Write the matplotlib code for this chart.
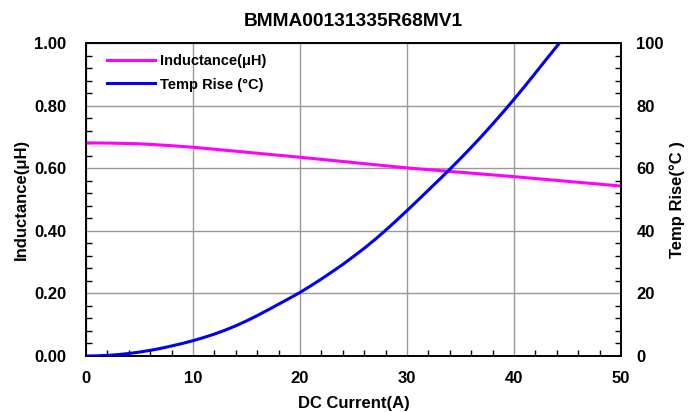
import numpy as np
import matplotlib
matplotlib.use("Agg")
import matplotlib.pyplot as plt
from matplotlib.ticker import MultipleLocator

plt.rcParams['font.family'] = ['Liberation Sans', 'DejaVu Sans']
plt.rcParams['font.weight'] = 'bold'

# data
current_ind = [0, 2.5, 5, 7.5, 10, 12.5, 15, 17.5, 20, 25, 30, 35, 40, 45, 50]
inductance = [0.681, 0.680, 0.678, 0.673, 0.667, 0.659, 0.651, 0.643, 0.635,
              0.618, 0.601, 0.587, 0.573, 0.558, 0.543]

current_temp = [0, 1, 2, 3, 4, 5, 6, 7, 8, 9, 10, 11, 12, 13, 14, 15, 16, 17, 18, 19, 20,
                21, 22, 23, 24, 25, 26, 27, 28, 29, 30, 31, 32, 33, 34, 35, 36, 37, 38,
                39, 40, 41, 42, 43, 44.25]
temp_rise = [0, 0.05, 0.2, 0.45, 0.8, 1.25, 1.8, 2.45, 3.2, 4.0, 4.9, 5.9, 7.0, 8.25, 9.65,
             11.2, 12.9, 14.7, 16.55, 18.4, 20.3, 22.4, 24.6, 26.9, 29.25, 31.8, 34.4, 37.2,
             40.15, 43.25, 46.45, 49.7, 53.0, 56.3, 59.65, 63.1, 66.65, 70.3, 74.1, 78.0,
             82.0, 86.15, 90.4, 94.7, 100.0]

x_ticks = [0, 10, 20, 30, 40, 50]
ind_ticks = [0.0, 0.2, 0.4, 0.6, 0.8, 1.0]
temp_ticks = [0, 20, 40, 60, 80, 100]

fig = plt.figure(figsize=(6.92, 4.12), dpi=100)
ax = fig.add_axes([86 / 692, 56 / 412, 535 / 692, 313 / 412])
ax2 = ax.twinx()

l1, = ax.plot(current_ind, inductance, color='#ff00ff', lw=2.2, label='Inductance(μH)',
              zorder=3, solid_joinstyle='round')
l2, = ax2.plot(current_temp, temp_rise, color='#0000ee', lw=2.2, label='Temp Rise (°C)',
               zorder=3, solid_joinstyle='round')

ax.set_xlim(0, 50)
ax.set_ylim(0, 1.0)
ax2.set_ylim(0, 100)
ax.set_xticks(x_ticks)
ax.set_yticks(ind_ticks)
ax.set_yticklabels(['%.2f' % v for v in ind_ticks])
ax2.set_yticks(temp_ticks)
ax.xaxis.set_minor_locator(MultipleLocator(2))
ax.yaxis.set_minor_locator(MultipleLocator(0.04))
ax2.yaxis.set_minor_locator(MultipleLocator(4))

ax.grid(True, which='major', color='#999999', lw=1)
ax.set_axisbelow(True)

for a in (ax, ax2):
    a.tick_params(which='both', direction='in', labelsize=12, top=False)
    a.tick_params(which='major', length=0)
    a.tick_params(which='minor', length=4, width=1)
    for s in a.spines.values():
        s.set_linewidth(1.2)
        s.set_color('black')
ax2.tick_params(axis='x', which='both', top=False, bottom=False)
ax.tick_params(axis='x', pad=11)
ax.tick_params(axis='y', pad=14)
ax2.tick_params(axis='y', pad=11)

ax.set_xlabel('DC Current(A)', fontsize=12, fontweight='bold', labelpad=7)
ax.set_ylabel('Inductance(μH)', fontsize=12, fontweight='bold', labelpad=4)
ax2.set_ylabel('Temp Rise(°C )', fontsize=12, fontweight='bold', labelpad=4)
ax.set_title('BMMA00131335R68MV1', fontsize=13.8, fontweight='bold', pad=12)

ax.legend(handles=[l1, l2], loc='upper left', bbox_to_anchor=(0.028, 0.982),
          borderaxespad=0, frameon=False, fontsize=10.5,
          handlelength=3.3, handletextpad=0.35, labelspacing=0.62)

fig.savefig('out.png', dpi=100)
